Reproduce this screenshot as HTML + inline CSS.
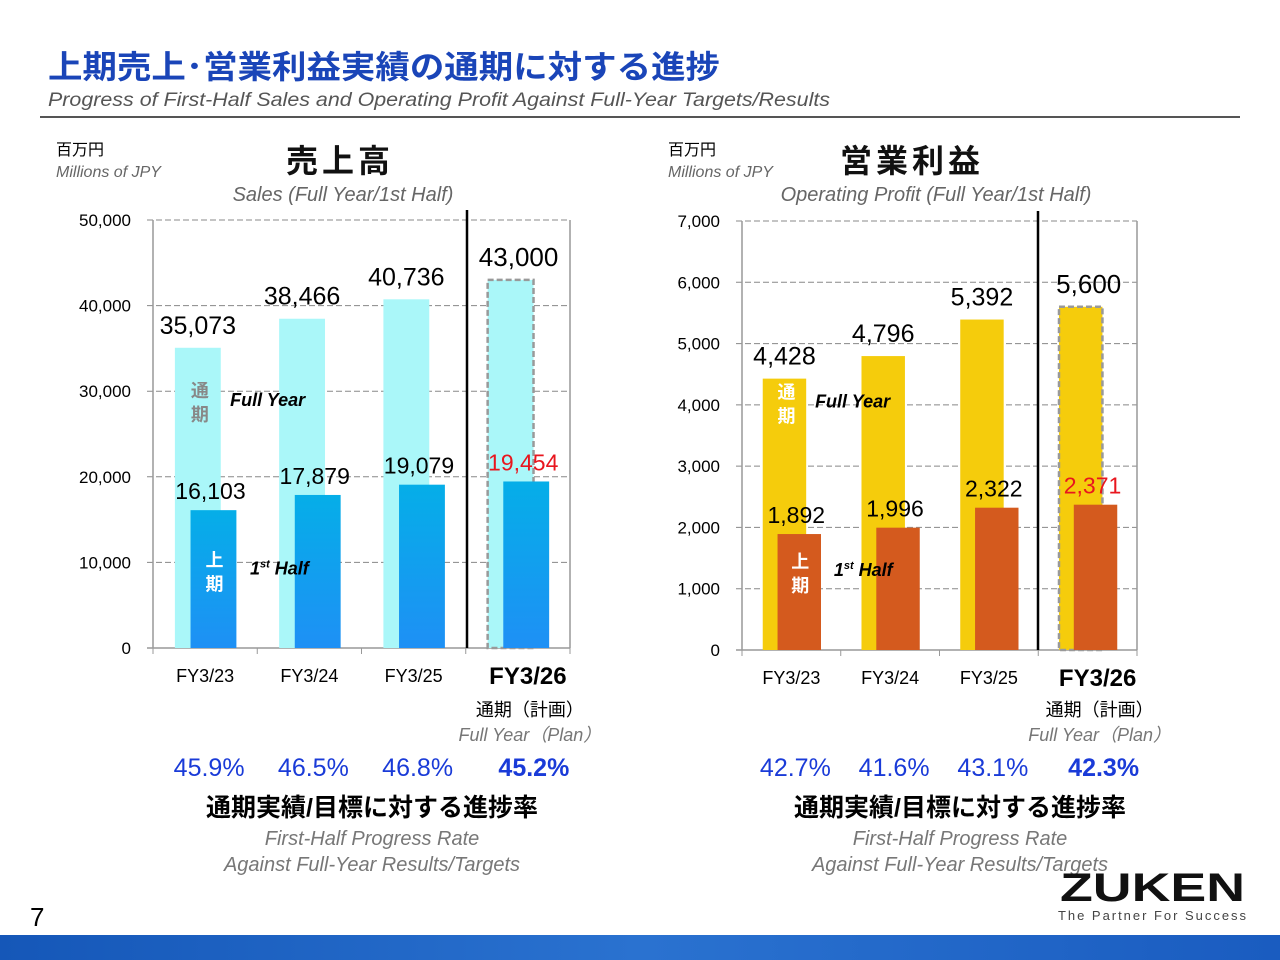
<!DOCTYPE html>
<html><head><meta charset="utf-8"><style>
body{margin:0;background:#fff}
svg{display:block;font-family:"Liberation Sans","Noto Sans CJK JP",sans-serif}
</style></head><body>
<svg width="1280" height="960" viewBox="0 0 1280 960">
<defs>
<linearGradient id="bb" x1="0" y1="0" x2="0" y2="1"><stop offset="0" stop-color="#05aee8"/><stop offset="1" stop-color="#1e90f5"/></linearGradient>
<linearGradient id="foot" x1="0" y1="0" x2="1" y2="0"><stop offset="0" stop-color="#1557b8"/><stop offset="0.5" stop-color="#2a72d0"/><stop offset="1" stop-color="#1a5cc0"/></linearGradient>
</defs>
<text x="48" y="78" font-size="32" font-weight="bold" fill="#1a45b8" textLength="672" lengthAdjust="spacingAndGlyphs">上期売上･営業利益実績の通期に対する進捗</text>
<text x="48" y="106" font-size="19" font-style="italic" fill="#555" textLength="782" lengthAdjust="spacingAndGlyphs">Progress of First-Half Sales and Operating Profit Against Full-Year Targets/Results</text>
<line x1="40" y1="117" x2="1240" y2="117" stroke="#555" stroke-width="2"/>

<g id="left"></g>
<g id="right"></g>

<text x="30" y="926" font-size="26" fill="#000">7</text>
<text x="1060" y="901" font-size="40" font-weight="bold" fill="#111" textLength="185" lengthAdjust="spacingAndGlyphs">ZUKEN</text>
<text x="1058" y="920" font-size="13" fill="#444" textLength="188" lengthAdjust="spacing">The Partner For Success</text>
<rect x="0" y="935" width="1280" height="25" fill="url(#foot)"/>
</svg>
<script>
const NS="http://www.w3.org/2000/svg";
const cats=["FY3/23","FY3/24","FY3/25","FY3/26"];
const salesFull=[35073,38466,40736,43000];
const salesHalf=[16103,17879,19079,19454];
const salesTicks=[0,10000,20000,30000,40000,50000];
const salesRates=["45.9%","46.5%","46.8%","45.2%"];
const profFull=[4428,4796,5392,5600];
const profHalf=[1892,1996,2322,2371];
const profTicks=[0,1000,2000,3000,4000,5000,6000,7000];
const profRates=["42.7%","41.6%","43.1%","42.3%"];

function el(p,tag,a,txt){const e=document.createElementNS(NS,tag);for(const k in a)e.setAttribute(k,a[k]);if(txt!==undefined)e.textContent=txt;p.appendChild(e);return e;}
function fmt(v){return v.toLocaleString("en-US");}

function chart(g,o){
  const y=v=>o.y0-(v/o.max)*(o.y0-o.yTop);
  const gw=(o.x1-o.x0)/4;
  el(g,"text",{x:o.hdrX,y:155,"font-size":16,fill:"#000"},"百万円");
  el(g,"text",{x:o.hdrX,y:177,"font-size":16,"font-style":"italic",fill:"#666"},"Millions of JPY");
  const t=el(g,"text",{x:o.titleX,y:172,"font-size":32,"font-weight":"bold","text-anchor":"middle",fill:"#111","letter-spacing":"4"},o.title);
  
  
  el(g,"text",{x:o.subX,y:201,"font-size":20,"font-style":"italic",fill:"#666","text-anchor":"middle"},o.sub);
  o.ticks.forEach(v=>{
    if(v>0){const l=el(g,"line",{x1:o.x0-6,x2:o.x1,y1:y(v),y2:y(v),stroke:"#888","stroke-dasharray":"6,3"});
    
    }
    const tl=el(g,"text",{x:o.x0-22,y:y(v)+6,"font-size":17,"text-anchor":"end",fill:"#000"},fmt(v));
    
    
  });
  el(g,"line",{x1:o.x0,x2:o.x0,y1:o.yTop,y2:o.y0,stroke:"#999","stroke-width":1.5});
  el(g,"line",{x1:o.x1,x2:o.x1,y1:o.yTop,y2:o.y0,stroke:"#999","stroke-width":1.5});
  el(g,"line",{x1:o.x0-6,x2:o.x1,y1:o.y0,y2:o.y0,stroke:"#999","stroke-width":1.5});
  for(let i=0;i<=4;i++)el(g,"line",{x1:o.x0+gw*i,x2:o.x0+gw*i,y1:o.y0,y2:o.y0+6,stroke:"#999"});
  cats.forEach((c,i)=>{
    const gx=o.x0+gw*i;
    const fx=gx+gw*0.21, hx=gx+gw*0.36, bw=gw*0.44;
    const fb=el(g,"rect",{x:fx,y:y(o.full[i]),width:bw,height:o.y0-y(o.full[i]),fill:o.fullCol});
    if(i===3){fb.setAttribute("stroke","#999");fb.setAttribute("stroke-dasharray","6,3");fb.setAttribute("stroke-width","2.5");}
    
    
    const hb=el(g,"rect",{x:hx,y:y(o.half[i]),width:bw,height:o.y0-y(o.half[i]),fill:o.halfCol});
    
    
    const fl=el(g,"text",{x:fx+bw/2+(i===3?8:0),y:y(o.full[i])-14,"font-size":i===3?26:25,"text-anchor":"middle",fill:"#000"},fmt(o.full[i]));
    
    
    const hl=el(g,"text",{x:hx+bw/2-3,y:y(o.half[i])-11,"font-size":23,"text-anchor":"middle",fill:i===3?"#e8161e":"#000"},fmt(o.half[i]));
    
    
    const cl=el(g,"text",{x:gx+gw/2+(i===3?10:0),y:o.y0+(i===3?36:34),"font-size":i===3?24:18,"font-weight":i===3?"bold":"normal","text-anchor":"middle",fill:"#000"},c);
    
    
    const rl=el(g,"text",{x:gx+gw/2+(i===3?12:0)+o.rateDx,y:776,"font-size":25,"font-weight":i===3?"bold":"normal","text-anchor":"middle",fill:"#1a3bd8"},o.rates[i]);
    
    
  });
  el(g,"line",{x1:o.sepX,x2:o.sepX,y1:o.yTop-10,y2:o.y0,stroke:"#000","stroke-width":2.5});
  const gx0=o.x0;
  el(g,"text",{x:gx0+gw*0.45,y:y(o.max*0.6)-12+18,"font-size":18,"font-weight":"bold",fill:o.kanjiCol,"text-anchor":"middle"},"通");
  el(g,"text",{x:gx0+gw*0.45,y:y(o.max*0.6)-12+42,"font-size":18,"font-weight":"bold",fill:o.kanjiCol,"text-anchor":"middle"},"期");
  el(g,"text",{x:gx0+gw*0.74,y:y(o.max*0.6)+15,"font-size":18,"font-weight":"bold","font-style":"italic",fill:"#000"},"Full Year");
  el(g,"text",{x:gx0+gw*0.59,y:y(o.max*0.2)-12+16,"font-size":18,"font-weight":"bold",fill:"#fff","text-anchor":"middle"},"上");
  el(g,"text",{x:gx0+gw*0.59,y:y(o.max*0.2)-12+40,"font-size":18,"font-weight":"bold",fill:"#fff","text-anchor":"middle"},"期");
  const h=el(g,"text",{x:gx0+gw*0.93,y:y(o.max*0.2)+12,"font-size":18,"font-weight":"bold","font-style":"italic",fill:"#000"});
  el(h,"tspan",{},"1");el(h,"tspan",{"font-size":11,dy:-7},"st");el(h,"tspan",{dy:7}," Half");
  const cx=o.x0+gw*3.5+12;
  el(g,"text",{x:cx,y:716,"font-size":18,"text-anchor":"middle",fill:"#000"},"通期（計画）");
  el(g,"text",{x:cx,y:741,"font-size":18,"font-style":"italic","text-anchor":"middle",fill:"#777"},"Full Year（Plan）");
  el(g,"text",{x:o.capX,y:816,"font-size":25,"font-weight":"bold","text-anchor":"middle",fill:"#000"},"通期実績/目標に対する進捗率");
  el(g,"text",{x:o.capX,y:845,"font-size":20,"font-style":"italic","text-anchor":"middle",fill:"#777"},"First-Half Progress Rate");
  el(g,"text",{x:o.capX,y:871,"font-size":20,"font-style":"italic","text-anchor":"middle",fill:"#777"},"Against Full-Year Results/Targets");
}
chart(document.getElementById("left"),{x0:153,x1:570,y0:648,yTop:220,max:50000,ticks:salesTicks,full:salesFull,half:salesHalf,rates:salesRates,
  fullCol:"#aaf7f9",halfCol:"url(#bb)",kanjiCol:"#888",title:"売上高",titleX:340,sub:"Sales (Full Year/1st Half)",subX:343,sepX:467,capX:372,hdrX:56,rateDx:4});
chart(document.getElementById("right"),{x0:742,x1:1137,y0:650,yTop:221,max:7000,ticks:profTicks,full:profFull,half:profHalf,rates:profRates,
  fullCol:"#f5cc0c",halfCol:"#d45a1e",kanjiCol:"#fff",title:"営業利益",titleX:912,sub:"Operating Profit (Full Year/1st Half)",subX:936,sepX:1038,capX:960,hdrX:668,rateDx:4});
</script>
</body></html>
